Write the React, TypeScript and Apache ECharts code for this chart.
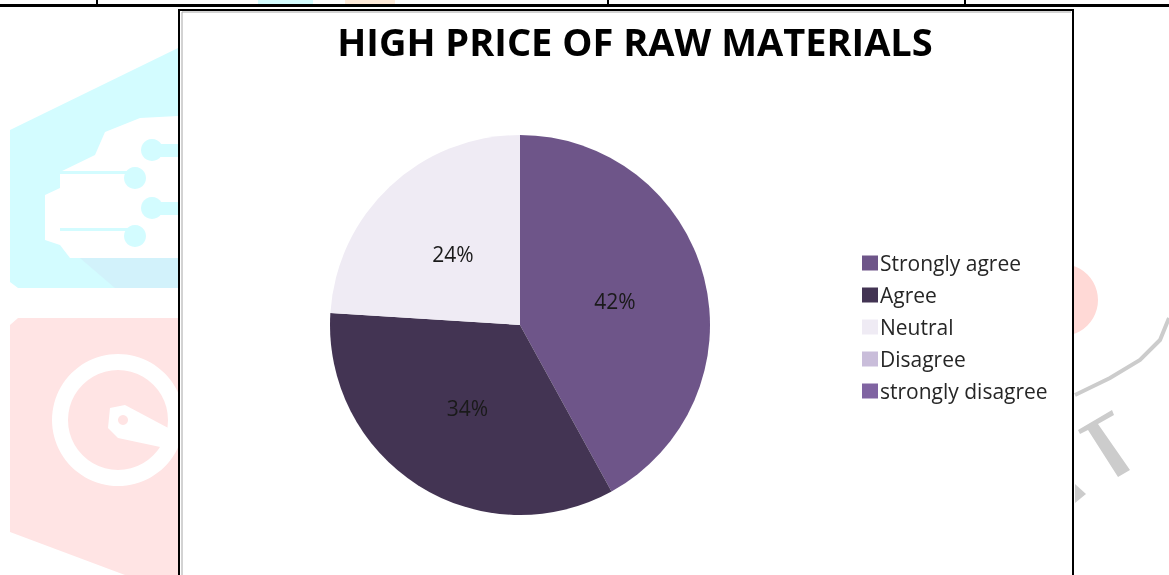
import React, { useEffect, useRef } from "react";
import * as echarts from "echarts";

const categories = ["Strongly agree", "Agree", "Neutral", "Disagree", "strongly disagree"];
const values = [42, 34, 24, 0, 0];
const colors = ["#6E5589", "#433453", "#EFEBF4", "#C9BDDA", "#8064A2"];
const titleText = "HIGH PRICE OF RAW MATERIALS";

export default function App() {
  const ref = useRef<HTMLDivElement>(null);
  useEffect(() => {
    if (!ref.current) return;
    const chart = echarts.init(ref.current, null, { renderer: "svg" });
    const bg: any[] = [
      // cyan watermark
      { type: "polygon", z: -20, shape: { points: [[10, 130], [178, 48], [178, 288], [18, 288], [10, 282]] }, style: { fill: "#D3FCFF" } },
      { type: "polygon", z: -19, shape: { points: [[80, 258], [178, 258], [178, 288], [115, 288]] }, style: { fill: "#D2F2FB" } },
      { type: "polygon", z: -18, shape: { points: [[60, 172], [95, 155], [105, 132], [140, 118], [178, 116], [178, 258], [70, 258], [60, 245], [45, 240], [45, 195], [60, 188]] }, style: { fill: "#FFFFFF" } },
      { type: "rect", z: -17, shape: { x: 60, y: 171, width: 75, height: 3 }, style: { fill: "#D3FCFF" } },
      { type: "circle", z: -17, shape: { cx: 135, cy: 178, r: 11 }, style: { fill: "#D3FCFF" } },
      { type: "rect", z: -17, shape: { x: 60, y: 228, width: 75, height: 3 }, style: { fill: "#D3FCFF" } },
      { type: "circle", z: -17, shape: { cx: 135, cy: 236, r: 11 }, style: { fill: "#D3FCFF" } },
      { type: "circle", z: -17, shape: { cx: 152, cy: 150, r: 11 }, style: { fill: "#D3FCFF" } },
      { type: "rect", z: -17, shape: { x: 152, y: 144, width: 26, height: 13 }, style: { fill: "#D3FCFF" } },
      { type: "circle", z: -17, shape: { cx: 152, cy: 208, r: 11 }, style: { fill: "#D3FCFF" } },
      { type: "rect", z: -17, shape: { x: 152, y: 202, width: 26, height: 13 }, style: { fill: "#D3FCFF" } },
      // red watermark
      { type: "polygon", z: -20, shape: { points: [[10, 325], [18, 318], [178, 318], [178, 575], [125, 575], [10, 532]] }, style: { fill: "#FFE4E4" } },
      { type: "circle", z: -17, shape: { cx: 118, cy: 420, r: 66 }, style: { fill: "#FFFFFF" } },
      { type: "circle", z: -16, shape: { cx: 118, cy: 420, r: 50 }, style: { fill: "#FFE4E4" } },
      { type: "polygon", z: -15, shape: { points: [[110, 408], [125, 405], [172, 430], [165, 448], [118, 438], [108, 428]] }, style: { fill: "#FFFFFF" } },
      { type: "circle", z: -14, shape: { cx: 123, cy: 420, r: 5 }, style: { fill: "#FFE4E4" } },
      // top small fragments
      { type: "rect", z: -20, shape: { x: 258, y: 0, width: 55, height: 5 }, style: { fill: "#D3FCFF" } },
      { type: "rect", z: -20, shape: { x: 345, y: 0, width: 50, height: 5 }, style: { fill: "#FFEBD9" } },
      // right watermark
      { type: "circle", z: -20, shape: { cx: 1062, cy: 300, r: 36 }, style: { fill: "#FFD9D6" } },
      { type: "polyline", z: -19, shape: { points: [[1075, 395], [1110, 378], [1140, 360], [1160, 340], [1169, 318]] }, style: { stroke: "#CCCCCC", lineWidth: 4, fill: "none" } },
      { type: "polygon", z: -19, shape: { points: [[1078, 430], [1112, 410], [1114, 415], [1098, 424], [1130, 470], [1118, 477], [1088, 430], [1080, 434]] }, style: { fill: "#CCCCCC" } },
      { type: "polygon", z: -19, shape: { points: [[1075, 484], [1086, 494], [1075, 503]] }, style: { fill: "#CCCCCC" } },
      // table lines
      { type: "rect", z: -5, shape: { x: 0, y: 4, width: 1169, height: 3 }, style: { fill: "#000000" } },
      { type: "rect", z: -5, shape: { x: 96, y: 0, width: 2, height: 5 }, style: { fill: "#000000" } },
      { type: "rect", z: -5, shape: { x: 607, y: 0, width: 2, height: 5 }, style: { fill: "#000000" } },
      { type: "rect", z: -5, shape: { x: 964, y: 0, width: 2, height: 5 }, style: { fill: "#000000" } },
      // chart box
      { type: "rect", z: -4, shape: { x: 179, y: 10, width: 894, height: 600 }, style: { fill: "#FFFFFF", stroke: "#000000", lineWidth: 2 } },
      { type: "polyline", z: -3, shape: { points: [[182, 600], [182, 12], [1071, 12]] }, style: { stroke: "#A6A6A6", lineWidth: 1, fill: "none" } },
    ];
    chart.setOption({
      animation: false,
      title: {
        text: titleText,
        left: 630,
        textAlign: "center",
        top: 17,
        textStyle: { fontFamily: "Open Sans", fontWeight: "bold", fontSize: 38, color: "#000000" },
      },
      legend: {
        orient: "vertical",
        left: 857,
        top: 247,
        itemWidth: 16,
        itemHeight: 15,
        itemGap: 10,
        icon: "rect",
        data: categories,
        textStyle: { fontFamily: "Open Sans", fontSize: 21, lineHeight: 22, color: "#262626", padding: [0, 0, 0, -3] },
      },
      graphic: bg,
      series: [
        {
          type: "pie",
          center: [520, 325],
          radius: 190,
          startAngle: 90,
          clockwise: true,
          avoidLabelOverlap: false,
          label: {
            show: true,
            position: "inner",
            formatter: (p: any) => (p.value > 0 ? p.value + "%" : ""),
            fontFamily: "Open Sans",
            fontSize: 21,
            color: "#1A1A1A",
          },
          labelLine: { show: false },
          emphasis: { disabled: true },
          data: categories.map((name, i) => ({ name, value: values[i], itemStyle: { color: colors[i] } })),
        },
      ],
    });
    return () => chart.dispose();
  }, []);
  return <div ref={ref} style={{ position: "fixed", left: 0, top: 0, width: 1169, height: 575 }} />;
}
